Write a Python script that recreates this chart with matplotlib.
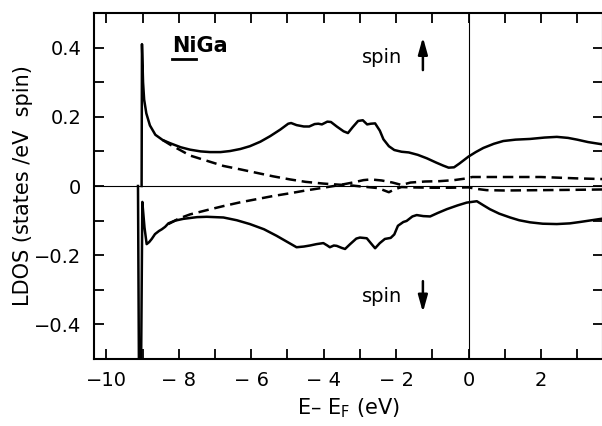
import matplotlib
matplotlib.use("Agg")
import matplotlib.pyplot as plt
from matplotlib.ticker import MultipleLocator, FixedLocator
import numpy as np

plt.rcParams['font.family'] = ['DejaVu Sans']
plt.rcParams['mathtext.fontset'] = 'dejavusans'

# ---- data (E - E_F in eV, LDOS in states/eV spin) ----
up_solid_x = [-9.03, -9.02, -8.99, -8.96, -8.90, -8.80, -8.65, -8.45, -8.25, -7.95, -7.69, -7.40,
              -7.14, -6.85, -6.59, -6.30, -6.04, -5.75, -5.48, -5.20, -4.98, -4.90, -4.75, -4.55,
              -4.40, -4.25, -4.15, -4.05, -3.90, -3.80, -3.64, -3.45, -3.33, -3.20, -3.05, -2.92,
              -2.80, -2.70, -2.58, -2.45, -2.35, -2.20, -2.05, -1.85, -1.65, -1.40, -1.15, -0.90,
              -0.70, -0.55, -0.40, -0.25, 0.0, 0.20, 0.41, 0.70, 0.96, 1.30, 1.70, 2.10, 2.44,
              2.75, 3.00, 3.30, 3.72]
up_solid_y = [0.0, 0.41, 0.30, 0.25, 0.21, 0.175, 0.148, 0.133, 0.124, 0.112, 0.105, 0.100,
              0.098, 0.098, 0.101, 0.107, 0.115, 0.128, 0.144, 0.163, 0.180, 0.182, 0.176, 0.172,
              0.172, 0.179, 0.180, 0.178, 0.186, 0.185, 0.172, 0.158, 0.153, 0.170, 0.188, 0.190,
              0.178, 0.180, 0.181, 0.160, 0.135, 0.115, 0.104, 0.099, 0.097, 0.090, 0.080, 0.068,
              0.059, 0.053, 0.054, 0.065, 0.085, 0.098, 0.110, 0.122, 0.130, 0.134, 0.136, 0.140,
              0.142, 0.139, 0.134, 0.127, 0.120]

up_dash_x = [-8.45, -8.25, -7.95, -7.69, -7.20, -6.77, -6.30, -5.85, -5.40, -4.93, -4.50, -4.01,
             -3.60, -3.27, -3.00, -2.70, -2.50, -2.35, -2.20, -2.05, -1.85, -1.60, -1.00, -0.50,
             0.0, 0.2, 0.5, 1.0, 2.0, 3.0, 3.72]
up_dash_y = [0.133, 0.120, 0.103, 0.088, 0.072, 0.058, 0.048, 0.038, 0.028, 0.019, 0.012, 0.007,
             0.004, 0.002, -0.001, -0.004, -0.006, -0.012, -0.018, -0.010, -0.003, -0.004, -0.005,
             -0.005, -0.004, -0.008, -0.012, -0.013, -0.012, -0.011, -0.010]

dn_solid_x = [-9.13, -9.10, -9.05, -9.01, -8.95, -8.89, -8.82, -8.75, -8.66, -8.55, -8.47, -8.38,
              -8.29, -8.10, -7.88, -7.50, -7.23, -6.77, -6.40, -6.04, -5.65, -5.30, -5.00, -4.75,
              -4.55, -4.38, -4.20, -4.01, -3.90, -3.83, -3.72, -3.64, -3.50, -3.41, -3.27, -3.10,
              -3.00, -2.81, -2.70, -2.58, -2.45, -2.31, -2.15, -2.05, -1.95, -1.80, -1.71, -1.55,
              -1.43, -1.25, -1.06, -0.85, -0.60, -0.30, -0.05, 0.23, 0.40, 0.59, 0.85, 1.15, 1.40,
              1.70, 2.05, 2.44, 2.80, 3.08, 3.72]
dn_solid_y = [0.0, -0.60, -0.60, -0.046, -0.12, -0.168, -0.162, -0.153, -0.139, -0.130, -0.125,
              -0.118, -0.108, -0.100, -0.095, -0.090, -0.089, -0.091, -0.099, -0.110, -0.125,
              -0.144, -0.162, -0.177, -0.175, -0.172, -0.168, -0.165, -0.172, -0.177, -0.172,
              -0.173, -0.179, -0.182, -0.168, -0.152, -0.149, -0.151, -0.165, -0.180, -0.165,
              -0.153, -0.150, -0.140, -0.115, -0.104, -0.101, -0.088, -0.084, -0.087, -0.088,
              -0.078, -0.067, -0.056, -0.048, -0.044, -0.055, -0.067, -0.080, -0.091, -0.099,
              -0.105, -0.109, -0.110, -0.108, -0.104, -0.094]

dn_dash_x = [-8.29, -8.00, -7.69, -7.20, -6.77, -6.30, -5.85, -5.40, -4.93, -4.50, -4.01, -3.60,
             -3.20, -2.90, -2.70, -2.40, -2.10, -1.85, -1.60, -1.20, -0.80, -0.40, -0.05, 0.10,
             1.0, 2.0, 3.0, 3.72]
dn_dash_y = [-0.110, -0.094, -0.082, -0.069, -0.058, -0.047, -0.038, -0.029, -0.021, -0.013,
             -0.005, 0.002, 0.010, 0.017, 0.019, 0.016, 0.010, 0.003, 0.010, 0.013, 0.014, 0.017,
             0.022, 0.026, 0.026, 0.026, 0.022, 0.020]

xtick_vals = [-10, -8, -6, -4, -2, 0, 2]
xtick_labels = ['\u221210', '\u2212 8', '\u2212 6', '\u2212 4', '\u2212 2', '0', '2']
ytick_vals = [-0.4, -0.2, 0.0, 0.2, 0.4]
ytick_labels = ['\u22120.4', '\u22120.2', '0', '0.2', '0.4']

W, H = 602, 426
fig = plt.figure(figsize=(W / 100, H / 100), dpi=100)
ax = fig.add_axes([94 / W, (H - 359) / H, (603 - 94) / W, (359 - 13) / H])
ax.set_xlim(-10.345, 3.715)
ax.set_ylim(-0.5, 0.5)

lw = 1.8
ax.axhline(0, color='black', lw=0.8, zorder=1)
ax.axvline(0, color='black', lw=0.8, zorder=1)

ax.plot(up_solid_x, up_solid_y, color='black', lw=lw, solid_joinstyle='round')
ax.plot(dn_solid_x, dn_solid_y, color='black', lw=lw, solid_joinstyle='round')
ax.plot(up_dash_x, up_dash_y, color='black', lw=lw, dashes=(4.2, 2.3))
ax.plot(dn_dash_x, dn_dash_y, color='black', lw=lw, dashes=(4.2, 2.3))

for s in ax.spines.values():
    s.set_linewidth(1.5)

ax.xaxis.set_major_locator(FixedLocator(xtick_vals))
ax.set_xticklabels(xtick_labels)
ax.xaxis.set_minor_locator(MultipleLocator(1))
ax.yaxis.set_major_locator(FixedLocator(ytick_vals))
ax.set_yticklabels(ytick_labels)
ax.yaxis.set_minor_locator(MultipleLocator(0.1))
ax.tick_params(which='both', direction='in', top=True, right=True, length=7, width=1.3,
               labelsize=14)
ax.tick_params(axis='x', which='major', pad=9)
ax.tick_params(axis='y', which='major', pad=9)

ax.set_xlabel('E\u2013 E$_\\mathregular{F}$ (eV)', fontsize=15, labelpad=4)
ax.set_ylabel('LDOS (states /eV  spin)', fontsize=15, labelpad=1)

# NiGa label with underlined "Ni"
t = ax.text(-8.2, 0.405, 'NiGa', fontsize=15, fontweight='bold', va='center', ha='left')
fig.canvas.draw()
r = fig.canvas.get_renderer()
tmp = ax.text(-8.2, 0.405, 'Ni', fontsize=15, fontweight='bold', va='center', ha='left')
bb = tmp.get_window_extent(r)
tmp.remove()
inv = ax.transData.inverted()
(x0, y0), (x1, _) = inv.transform([(bb.x0, bb.y0 - 3), (bb.x1, bb.y0 - 3)])
ax.plot([x0, x1], [y0, y0], color='black', lw=2.0)

# spin annotations
ax.text(-2.95, 0.37, 'spin', fontsize=14, va='center', ha='left')
ax.annotate('', xy=(-1.26, 0.43), xytext=(-1.26, 0.335),
            arrowprops=dict(arrowstyle='-|>,head_length=1.0,head_width=0.28', color='black',
                            lw=1.8, shrinkA=0, shrinkB=0))
ax.text(-2.95, -0.32, 'spin', fontsize=14, va='center', ha='left')
ax.annotate('', xy=(-1.26, -0.365), xytext=(-1.26, -0.275),
            arrowprops=dict(arrowstyle='-|>,head_length=1.0,head_width=0.28', color='black',
                            lw=1.8, shrinkA=0, shrinkB=0))

fig.savefig('out.png', dpi=100)
